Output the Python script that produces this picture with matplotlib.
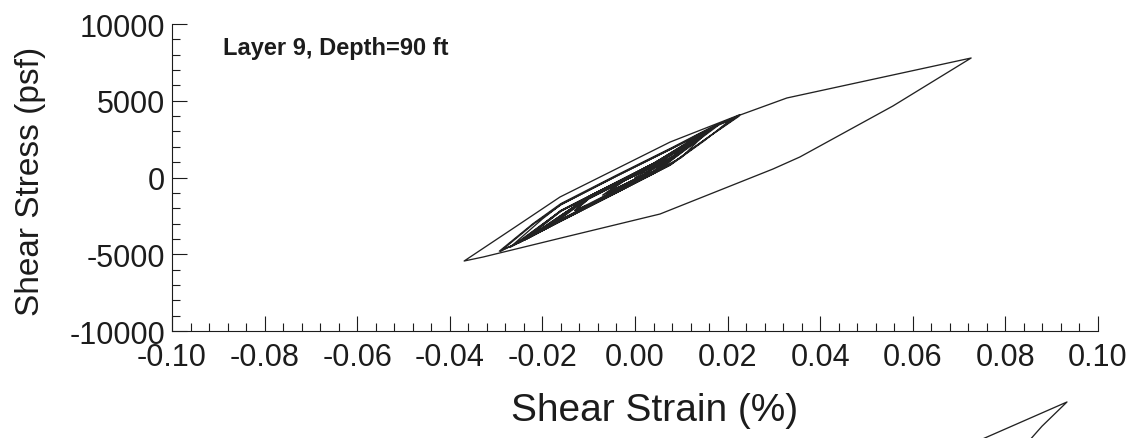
import matplotlib

matplotlib.use("Agg")

import matplotlib.pyplot as plt
from matplotlib.ticker import MultipleLocator

plt.rcParams["font.family"] = ["Liberation Sans", "DejaVu Sans"]
plt.rcParams["axes.unicode_minus"] = False

INK = "#1c1c1c"
LINE = "#222222"

# Shear strain (%) / shear stress (psf) history
# turning point by turning point, with a few points along each branch.
strain = [
    0.000, 0.006, 0.002, -0.007, -0.003,
    # dense small cycles
    0.004, 0.009, 0.004, -0.010, -0.013,
    -0.010, 0.004, 0.012, 0.004, -0.010, -0.017,
    -0.010, 0.004, 0.014, 0.004, -0.010, -0.020,
    -0.010, 0.004, 0.016, 0.004, -0.010, -0.023,
    -0.010, 0.004, 0.015, 0.004, -0.010, -0.025,
    -0.016, 0.004, 0.017, 0.004, -0.016, -0.026,
    -0.016, 0.004, 0.0147, 0.004, -0.010, -0.022,
    -0.010, 0.004, 0.013, 0.004, -0.010, -0.024,
    -0.016, 0.004, 0.018, 0.004, -0.016, -0.027,
    # larger cycles (upper band)
    -0.029,
    -0.022, -0.016, -0.004, 0.008, 0.016, 0.0225,
    0.015, 0.0076, -0.004, -0.016, -0.023, -0.0293,
    -0.022, -0.016, -0.004, 0.008, 0.016, 0.021,
    0.015, 0.0076, -0.004, -0.016, -0.027,
    # big excursion to the peak and back
    -0.020, -0.016, -0.004, 0.008, 0.016, 0.0225, 0.0328, 0.0726,
    0.0557, 0.0356, 0.0298, 0.0054, -0.0151, -0.0328, -0.0369,
    -0.026, -0.0162, 0.0076, 0.0227,
    # decaying cycles afterwards
    0.015, 0.0076, -0.004, -0.016, -0.024,
    -0.016, 0.004, 0.015, 0.004, -0.016, -0.025,
    -0.016, 0.004, 0.012, 0.016, 0.010, -0.004, -0.016, -0.022,
    -0.010, 0.004, 0.014, 0.004, -0.010, -0.021,
    -0.010, 0.004, 0.0155, 0.004, -0.010, -0.018,
    -0.010, 0.004, 0.011, 0.004, -0.010, -0.013,
    -0.010, 0.004, 0.007, 0.002, -0.006, -0.002, 0.002,
]
stress = [
    0, 950, 200, -1150, -300,
    720, 1550, 430, -1720, -2150,
    -1380, 780, 2250, 380, -1780, -2900,
    -1320, 830, 2650, 340, -1830, -3400,
    -1270, 880, 3050, 300, -1870, -3900,
    -1240, 910, 2850, 280, -1880, -4200,
    -2150, 920, 3250, 260, -2800, -4350,
    -2180, 900, 2950, 290, -1860, -3750,
    -1260, 870, 2450, 320, -1840, -4050,
    -2170, 890, 3400, 250, -2790, -4500,
    -4800,
    -3050, -1780, 80, 1880, 3150, 4000,
    2450, 820, -990, -2830, -3950, -4800,
    -3000, -1700, 150, 1950, 3200, 3850,
    2400, 800, -1000, -2850, -4550,
    -2700, -1760, 100, 1900, 3150, 4050, 5180, 7785,
    4658, 1335, 553, -2379, -3877, -5180, -5440,
    -3250, -1271, 2312, 4100,
    2450, 840, -960, -2820, -4100,
    -2200, 900, 2850, 300, -2760, -4250,
    -2150, 930, 2350, 3100, 1300, -900, -2780, -3700,
    -1250, 900, 2700, 310, -1850, -3550,
    -1280, 880, 2950, 290, -1870, -3050,
    -1300, 850, 2000, 380, -1780, -2150,
    -1400, 760, 1150, 200, -1000, -150, 400,
]

# fragment of the next panel's loop that pokes into the bottom of the image
next_strain = [0.070, 0.0933, 0.0879, 0.0835]
next_stress = [6400, 9480, 7900, 6400]

x_ticks = [-0.10, -0.08, -0.06, -0.04, -0.02, 0.00, 0.02, 0.04, 0.06, 0.08, 0.10]
y_ticks = [-10000, -5000, 0, 5000, 10000]

fig = plt.figure(figsize=(11.39, 4.39), dpi=100)
ax = fig.add_axes([172 / 1139, 107 / 439, 926 / 1139, 307 / 439])

ax.plot(strain, stress, color=LINE, linewidth=0.95)

ax.set_xlim(-0.10, 0.10)
ax.set_ylim(-10000, 10000)
ax.set_xticks(x_ticks)
ax.set_xticklabels([f"{v:.2f}" for v in x_ticks])
ax.set_yticks(y_ticks)
ax.set_yticklabels([str(v) for v in y_ticks])
ax.xaxis.set_minor_locator(MultipleLocator(0.004))
ax.yaxis.set_minor_locator(MultipleLocator(1000))

ax.tick_params(which="both", direction="in", width=0.8, colors=INK,
               top=False, right=False)
ax.tick_params(which="major", length=11, labelsize=22)
ax.tick_params(which="minor", length=6)
ax.tick_params(axis="x", which="major", pad=8)
ax.tick_params(axis="y", which="major", pad=5)

for side in ("top", "right"):
    ax.spines[side].set_visible(False)
for side in ("left", "bottom"):
    ax.spines[side].set_linewidth(0.8)
    ax.spines[side].set_color(INK)

ax.set_xlabel("Shear Strain (%)", fontsize=28, color=INK)
ax.xaxis.set_label_coords((655 - 172) / 926, (332 - 393) / 307)
ax.set_ylabel("Shear Stress (psf)", fontsize=24, color=INK)
ax.yaxis.set_label_coords((46 - 172) / 926, (332 - 181) / 307)

ax.text(-0.089, 8450, "Layer 9, Depth=90 ft", fontsize=17,
        fontweight="bold", color=INK, ha="left", va="center")

# next panel, almost entirely below the bottom edge of the figure
ax2 = fig.add_axes([172 / 1139, (439 - 395 - 307) / 439, 926 / 1139, 307 / 439])
ax2.plot(next_strain, next_stress, color=LINE, linewidth=0.95)
ax2.set_xlim(-0.10, 0.10)
ax2.set_ylim(-10000, 10000)
ax2.axis("off")

fig.savefig("out.png", dpi=100, facecolor="white")
